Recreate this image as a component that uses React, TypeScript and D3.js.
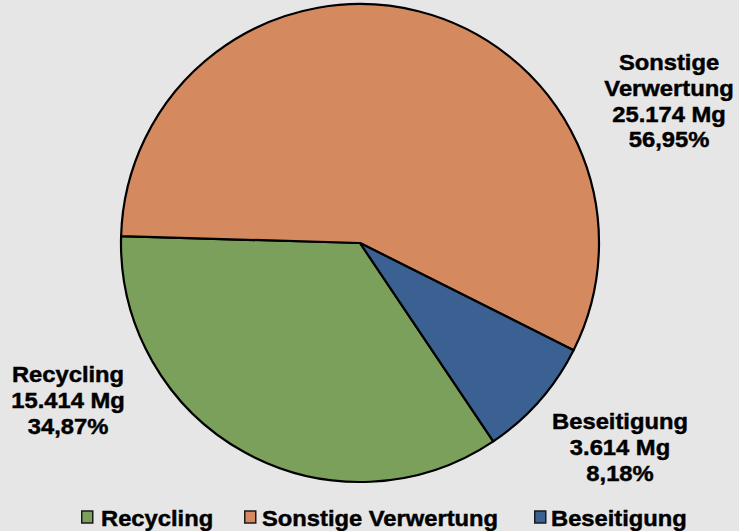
import React from "react";
import * as d3 from "d3";

const categories = ["Recycling", "Sonstige Verwertung", "Beseitigung"];
const valuesMg = [15414, 25174, 3614];
const valueLabels = ["15.414 Mg", "25.174 Mg", "3.614 Mg"];
const percentLabels = ["34,87%", "56,95%", "8,18%"];
const labelLines = [["Recycling"], ["Sonstige", "Verwertung"], ["Beseitigung"]];
const colors = ["#7ba05b", "#d5895f", "#3a6191"];

const W = 739;
const H = 531;
const cx = 360;
const cy = 243;
const R = 239;
const startDeg = 146.1;
const FONT = "'Liberation Sans', Arial, sans-serif";
const FS = 22;
const SX = 1.08;
const LH = 25.8;

// label anchor (center x, first baseline y) — layout
const labelPos: [number, number][] = [
  [68, 382],
  [669, 70],
  [620, 429],
];

// legend layout: square x, text x
const legendX: [number, number][] = [
  [81, 101],
  [244, 262],
  [534, 551],
];
const legendY = 526;

export default function App() {
  const start = (startDeg * Math.PI) / 180;
  const pie = d3
    .pie<number>()
    .sort(null)
    .startAngle(start)
    .endAngle(start + 2 * Math.PI)
    .value((d) => d);
  const arcs = pie(valuesMg);
  const arc = d3.arc<d3.PieArcDatum<number>>().innerRadius(0).outerRadius(R);

  const Txt = ({ x, y, s, anchor = "middle" }: { x: number; y: number; s: string; anchor?: string }) => (
    <text
      transform={`translate(${x},${y}) scale(${SX},1)`}
      textAnchor={anchor}
      fontFamily={FONT}
      fontWeight="bold"
      fontSize={FS}
      fill="#000"
      stroke="#000"
      strokeWidth={0.45}
    >
      {s}
    </text>
  );

  return (
    <svg width={W} height={H} style={{ position: "absolute", left: 0, top: 0, display: "block" }}>
      <rect x={0} y={0} width={W} height={H} fill="#e6e6e6" />
      <g transform={`translate(${cx},${cy})`}>
        {arcs.map((a, i) => (
          <path key={i} d={arc(a) || ""} fill={colors[i]} stroke="#000" strokeWidth={2.2} strokeLinejoin="round" />
        ))}
      </g>
      {categories.map((c, i) => {
        const lines = [...labelLines[i], valueLabels[i], percentLabels[i]];
        const [lx, ly] = labelPos[i];
        return (
          <g key={c}>
            {lines.map((s, j) => (
              <Txt key={j} x={lx} y={ly + j * LH} s={s} />
            ))}
          </g>
        );
      })}
      {categories.map((c, i) => (
        <g key={"l" + c}>
          <rect
            x={legendX[i][0] + 0.75}
            y={legendY - 15}
            width={11}
            height={12}
            fill={colors[i]}
            stroke="#1a1a1a"
            strokeWidth={1.5}
          />
          <Txt x={legendX[i][1]} y={legendY} s={c} anchor="start" />
        </g>
      ))}
    </svg>
  );
}
